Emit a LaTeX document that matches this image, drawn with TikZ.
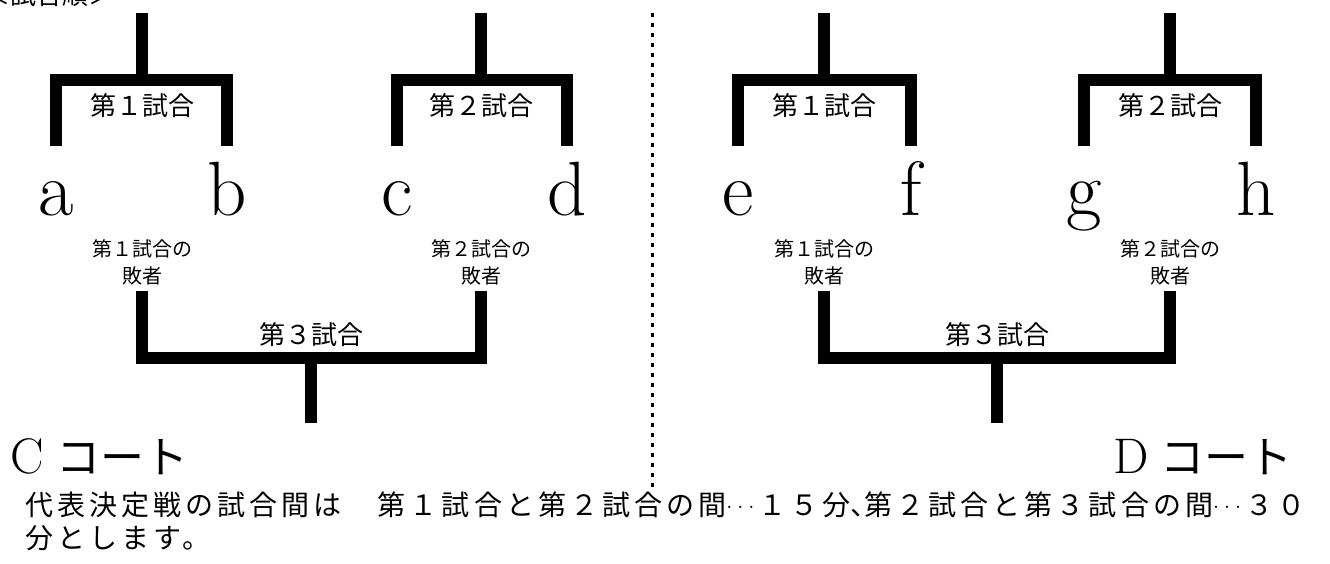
\documentclass[tikz,border=0pt]{standalone}
\usepackage{fontspec}
\newfontfamily\jp{Noto Sans CJK JP}
\newfontfamily\jpspaced{Noto Sans CJK JP}[LetterSpace=14.5]
\newcommand\halfcomma{{\addfontfeature{RawFeature=+halt}、}}
% three centred dots filling one character cell
\newcommand\middots{\makebox[28pt][c]{\normalfont\fontsize{28}{28}\selectfont
  \raisebox{7pt}{.\hspace{4pt}.\hspace{4pt}.}}\hspace{4pt}}
\begin{document}
\begin{tikzpicture}[x=1pt,y=-1pt,
  bracketline/.style={line width=12pt, line join=miter, line cap=butt},
  divider/.style={line width=2.2pt, dash pattern=on 4pt off 6pt},
  player/.style={font=\fontsize{77}{77}\selectfont, inner sep=0pt, anchor=base},
  matchlabel/.style={font=\jp\fontsize{26}{26}\selectfont, inner sep=0pt},
  loserlabel/.style={font=\jp\fontsize{20}{27}\selectfont, inner sep=0pt, align=center},
  courtname/.style={inner sep=0pt, anchor=base west},
  heading/.style={font=\jp\fontsize{26}{26}\selectfont, inner sep=0pt, anchor=base west},
  note/.style={font=\jpspaced\fontsize{28}{28}\selectfont, inner sep=0pt, anchor=base west}]
\useasboundingbox (0,0) rectangle (1330,563);

% heading (runs off the top edge)
\node[heading] (head) at (-16,4) {＜試合順＞};

% ---------- C court ----------
\node[player] (a) at (56,215) {a};
\node[player] (b) at (227,215) {b};
\node[player] (c) at (397,215) {c};
\node[player] (d) at (567,215) {d};

\coordinate (m1top) at (142,13);
\coordinate (m2top) at (481,13);
\draw[bracketline] (56,146) |- (227,80) -- (227,146);
\draw[bracketline] (m1top) -- (142,80);
\draw[bracketline] (397,146) |- (567,80) -- (567,146);
\draw[bracketline] (m2top) -- (481,80);
\node[matchlabel] (m1) at (142,106) {第１試合};
\node[matchlabel] (m2) at (481,106) {第２試合};

\node[loserlabel] (l1) at (142,262.5) {第１試合の\\敗者};
\node[loserlabel] (l2) at (481,262.5) {第２試合の\\敗者};

\coordinate (m3bot) at (311,423);
\draw[bracketline] (142,291) |- (481,358) -- (481,291);
\draw[bracketline] (311,358) -- (m3bot);
\node[matchlabel] (m3) at (311,335) {第３試合};

\node[courtname] (courtC) at (10,473)
  {\fontsize{50}{50}\selectfont C\hspace{13pt}{\jp\fontsize{44}{44}\selectfont コート}};

% ---------- divider ----------
\coordinate (divtop) at (652.5,13);
\coordinate (divbot) at (652.5,487);
\draw[divider] (divtop) -- (divbot);

% ---------- D court ----------
\node[player] (e) at (738,215) {e};
\node[player] (f) at (911,215) {f};
\node[player] (g) at (1084,215) {g};
\node[player] (h) at (1256,215) {h};

\coordinate (n1top) at (824,13);
\coordinate (n2top) at (1170,13);
\draw[bracketline] (738,146) |- (911,80) -- (911,146);
\draw[bracketline] (n1top) -- (824,80);
\draw[bracketline] (1084,146) |- (1256,80) -- (1256,146);
\draw[bracketline] (n2top) -- (1170,80);
\node[matchlabel] (n1) at (824,106) {第１試合};
\node[matchlabel] (n2) at (1170,106) {第２試合};

\node[loserlabel] (k1) at (824,262.5) {第１試合の\\敗者};
\node[loserlabel] (k2) at (1170,262.5) {第２試合の\\敗者};

\coordinate (n3bot) at (997,423);
\draw[bracketline] (824,291) |- (1170,358) -- (1170,291);
\draw[bracketline] (997,358) -- (n3bot);
\node[matchlabel] (n3) at (997,335) {第３試合};

\node[courtname] (courtD) at (1113,473)
  {\fontsize{50}{50}\selectfont D\hspace{12pt}{\jp\fontsize{44}{44}\selectfont コート}};

% ---------- interval note ----------
\node[note] (note1) at (25,515)
  {代表決定戦の試合間は　第１試合と第２試合の間\middots １５分\halfcomma 第２試合と第３試合の間\middots ３０};
\node[note] (note2) at (25,548) {分とします。};
\end{tikzpicture}
\end{document}
